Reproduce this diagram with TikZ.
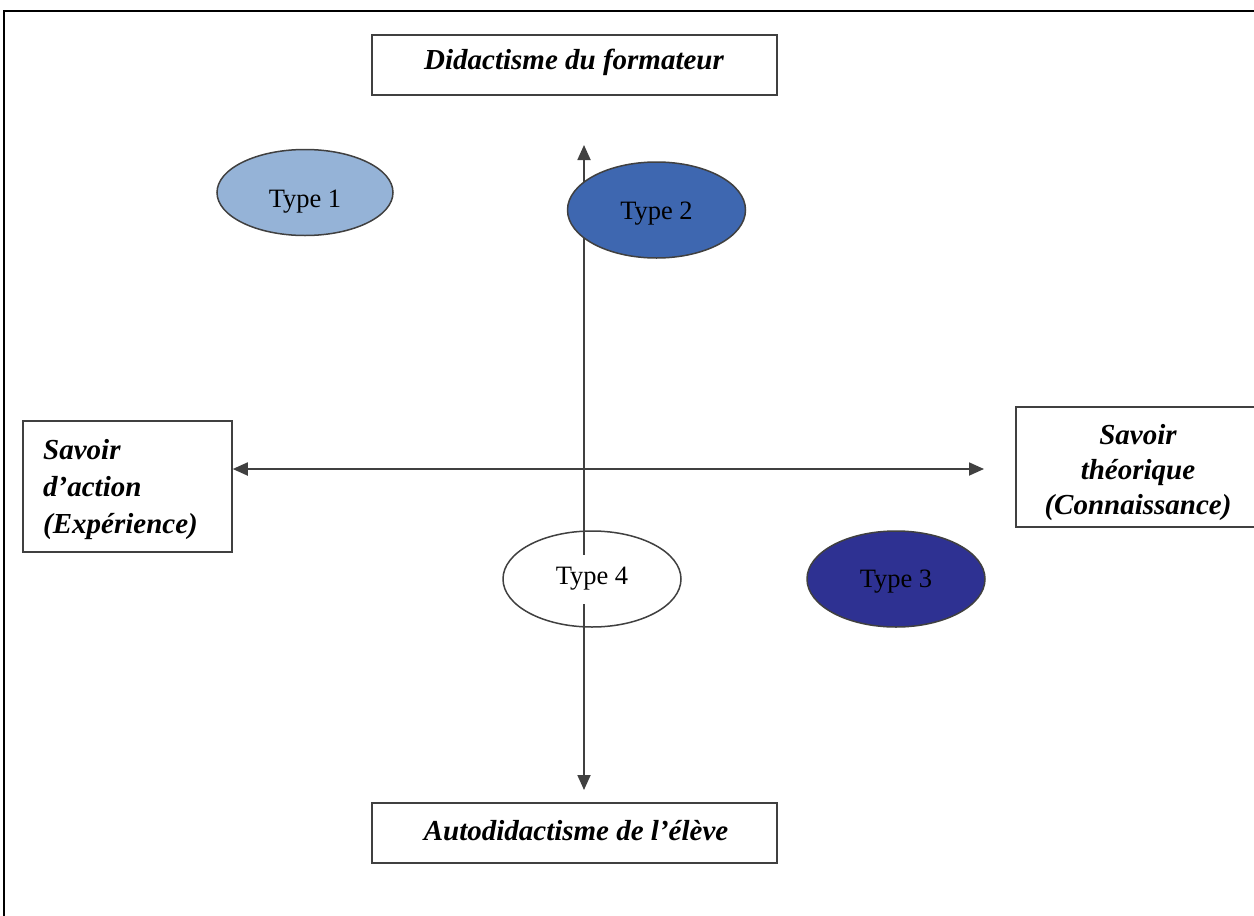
\documentclass[tikz,border=0pt]{standalone}
\usepackage{fontspec}
\setmainfont{Liberation Serif}
\usetikzlibrary{arrows.meta,shapes.geometric}
\definecolor{lineclr}{HTML}{404040}
\definecolor{typeone}{HTML}{95B3D7}
\definecolor{typetwo}{HTML}{3E67B0}
\definecolor{typethree}{HTML}{2E3192}
\tikzset{
  axisbox/.style={draw=lineclr, line width=1.5pt, fill=white, inner sep=0pt},
  boxtext/.style={inner sep=0pt, font=\fontsize{29}{37}\selectfont\bfseries\itshape},
  typeell/.style={ellipse, draw=lineclr, line width=1.5pt, inner sep=0pt,
    minimum width=178pt, minimum height=96pt},
  typelbl/.style={font=\fontsize{26.5}{30}\selectfont},
  axis/.style={draw=lineclr, line width=1.8pt, {Triangle[length=15pt,width=13pt]}-{Triangle[length=15pt,width=13pt]}},
  frameln/.style={draw=black, line width=2.2pt}
}
\begin{document}
\begin{tikzpicture}[x=1pt,y=-1pt]
\useasboundingbox (0,0) rectangle (1254,916);
\clip (0,0) rectangle (1254,916);
\fill[white] (0,0) rectangle (1254,916);
% frame
\coordinate (fTL) at (4,11);
\coordinate (fTR) at (1260,11);
\coordinate (fBL) at (4,920);
\draw[frameln] (fBL) -- (fTL) -- (fTR);
% boxes
\node[axisbox, minimum width=405pt, minimum height=60pt] (top) at (574.5,65) {};
\node[boxtext] (toptxt) at (574,62) {Didactisme du formateur};
\node[axisbox, minimum width=405pt, minimum height=60pt] (bot) at (574.5,833) {};
\node[boxtext] (bottxt) at (576,831) {Autodidactisme de l’élève};
\node[axisbox, minimum width=209pt, minimum height=131pt] (left) at (127.5,486.5) {};
\node[boxtext, align=left, anchor=west] (lefttxt) at (43,490) {Savoir\\d’action\\(Expérience)};
\node[axisbox, minimum width=244pt, minimum height=120pt] (right) at (1138,467) {};
\node[boxtext, align=center, font=\fontsize{29}{35}\selectfont\bfseries\itshape] (righttxt) at (1138,473) {Savoir\\théorique\\(Connaissance)};
% axes
\coordinate (hR) at (984,469);
\coordinate (vT) at (584,145);
\coordinate (vB) at (584,790);
\draw[axis] (left.east |- hR) -- (hR);
\draw[axis] (vB) -- (vT);
% types
\node[typeell, fill=typeone, minimum width=176pt, minimum height=86pt] (t1) at (305,192.5) {};
\node[typelbl] (t1txt) at ([yshift=-9pt]t1) {Type 1};
\node[typeell, fill=typetwo] (t2) at (656.5,210) {};
\node[typelbl] (t2txt) at ([yshift=-4pt]t2) {Type 2};
\node[typeell, fill=typethree] (t3) at (896,579) {};
\node[typelbl] (t3txt) at ([yshift=-3pt]t3) {Type 3};
\node[typeell] (t4) at (592,579) {};
\node[typelbl, fill=white, inner sep=0pt, minimum height=49pt] (t4txt) at (t4) {Type 4};
\end{tikzpicture}
\end{document}
